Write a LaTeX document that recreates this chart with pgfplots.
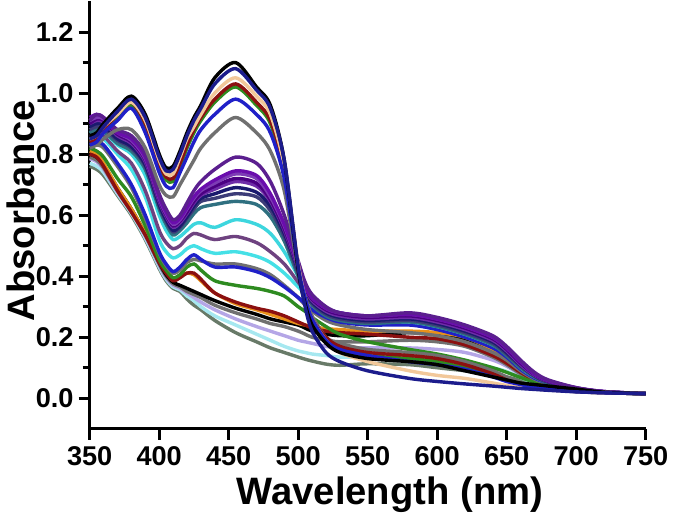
\documentclass[border=0pt]{standalone}
\usepackage{pgfplots}
\usepackage{pgfplotstable}
\pgfplotsset{compat=1.18}
\usepackage{fontspec}
\setmainfont{Liberation Sans}
\pgfplotstableread{
name c1 c2 c3 c4 c5 c6 c7 c8 c9 c10 c11 c12 c13 c14 c15 c16 c17 c18 c19 c20 c21 c22 c23 c24 c25 c26 c27 c28 c29 c30 c31 c32 c33 c34 c35
lam 350 355 360 370 380 390 400 405 410 415 420 425 430 440 455 470 480 490 500 505 510 520 530 550 580 600 620 640 650 660 670 680 700 720 750
T1 0.86 0.87 0.90 0.95 0.99 0.93 0.80 0.755 0.76 0.81 0.87 0.92 0.96 1.05 1.10 1.02 0.96 0.78 0.42 0.31 0.24 0.18 0.15 0.13 0.12 0.11 0.09 0.07 0.06 0.05 0.045 0.04 0.03 0.02 0.015
T2 0.85 0.86 0.89 0.94 0.98 0.92 0.79 0.745 0.75 0.80 0.86 0.91 0.95 1.03 1.08 1.01 0.95 0.78 0.43 0.30 0.22 0.15 0.12 0.09 0.065 0.055 0.047 0.04 0.036 0.032 0.029 0.026 0.021 0.018 0.015
T3 0.85 0.86 0.89 0.93 0.97 0.91 0.78 0.735 0.735 0.79 0.85 0.89 0.93 1.00 1.05 0.99 0.93 0.76 0.44 0.33 0.26 0.19 0.15 0.12 0.09 0.075 0.065 0.05 0.042 0.036 0.031 0.027 0.022 0.018 0.015
T4 0.84 0.85 0.88 0.93 0.97 0.90 0.77 0.725 0.72 0.77 0.83 0.88 0.92 0.98 1.03 0.97 0.91 0.75 0.43 0.33 0.26 0.2 0.17 0.15 0.14 0.13 0.11 0.08 0.06 0.045 0.035 0.03 0.022 0.018 0.015
T5 0.84 0.85 0.88 0.92 0.96 0.89 0.76 0.715 0.71 0.76 0.82 0.87 0.91 0.97 1.02 0.96 0.90 0.74 0.43 0.33 0.26 0.19 0.16 0.14 0.13 0.12 0.10 0.075 0.06 0.045 0.035 0.03 0.022 0.018 0.015
T6 0.83 0.84 0.87 0.91 0.95 0.87 0.74 0.695 0.69 0.74 0.79 0.84 0.88 0.93 0.98 0.93 0.87 0.72 0.43 0.33 0.26 0.19 0.16 0.14 0.12 0.11 0.095 0.07 0.055 0.045 0.035 0.03 0.022 0.018 0.015
T7 0.82 0.83 0.85 0.88 0.88 0.82 0.70 0.665 0.66 0.70 0.74 0.78 0.82 0.87 0.92 0.87 0.81 0.68 0.42 0.33 0.27 0.2 0.18 0.16 0.15 0.14 0.12 0.09 0.07 0.05 0.04 0.033 0.025 0.02 0.015
M1 0.91 0.93 0.92 0.88 0.86 0.80 0.67 0.62 0.585 0.60 0.64 0.68 0.71 0.75 0.79 0.77 0.71 0.60 0.45 0.38 0.34 0.30 0.28 0.27 0.28 0.265 0.24 0.205 0.17 0.125 0.085 0.06 0.035 0.022 0.015
M2 0.92 0.93 0.92 0.87 0.85 0.79 0.66 0.61 0.575 0.59 0.625 0.66 0.685 0.715 0.745 0.73 0.67 0.57 0.44 0.37 0.33 0.295 0.28 0.27 0.275 0.26 0.235 0.2 0.165 0.12 0.08 0.058 0.034 0.022 0.015
M3 0.91 0.92 0.915 0.87 0.845 0.785 0.655 0.605 0.57 0.585 0.62 0.655 0.68 0.705 0.735 0.72 0.66 0.565 0.435 0.37 0.33 0.295 0.28 0.27 0.275 0.26 0.235 0.2 0.165 0.12 0.08 0.058 0.034 0.022 0.015
M4 0.90 0.915 0.91 0.865 0.84 0.78 0.65 0.60 0.565 0.58 0.61 0.645 0.67 0.695 0.72 0.705 0.65 0.555 0.43 0.365 0.325 0.29 0.275 0.265 0.27 0.255 0.23 0.195 0.16 0.115 0.078 0.056 0.033 0.021 0.015
M5 0.90 0.91 0.905 0.86 0.835 0.775 0.645 0.595 0.56 0.575 0.605 0.64 0.665 0.685 0.71 0.695 0.645 0.55 0.425 0.36 0.32 0.285 0.27 0.26 0.265 0.25 0.225 0.19 0.155 0.11 0.075 0.055 0.033 0.021 0.015
M6 0.89 0.90 0.895 0.85 0.825 0.765 0.635 0.585 0.55 0.565 0.595 0.63 0.655 0.67 0.69 0.675 0.63 0.54 0.42 0.355 0.315 0.28 0.265 0.255 0.26 0.245 0.22 0.185 0.15 0.108 0.074 0.054 0.033 0.021 0.015
M7 0.88 0.89 0.885 0.845 0.82 0.76 0.63 0.58 0.545 0.56 0.59 0.62 0.645 0.655 0.67 0.66 0.615 0.53 0.41 0.35 0.31 0.275 0.26 0.25 0.255 0.24 0.215 0.18 0.145 0.105 0.072 0.052 0.032 0.021 0.015
M8 0.87 0.88 0.875 0.835 0.81 0.75 0.62 0.57 0.535 0.55 0.575 0.605 0.625 0.635 0.645 0.635 0.595 0.515 0.40 0.345 0.305 0.27 0.255 0.245 0.25 0.235 0.21 0.175 0.14 0.1 0.07 0.05 0.031 0.02 0.015
C1 0.87 0.88 0.875 0.83 0.80 0.73 0.60 0.55 0.52 0.53 0.55 0.57 0.575 0.56 0.585 0.57 0.54 0.48 0.40 0.36 0.33 0.295 0.28 0.265 0.265 0.25 0.225 0.19 0.155 0.11 0.075 0.055 0.033 0.021 0.015
C2 0.86 0.865 0.86 0.81 0.77 0.68 0.55 0.51 0.49 0.50 0.525 0.54 0.535 0.52 0.53 0.51 0.48 0.44 0.38 0.35 0.32 0.285 0.27 0.255 0.255 0.24 0.215 0.18 0.15 0.105 0.072 0.053 0.032 0.021 0.015
C3 0.85 0.855 0.85 0.80 0.75 0.66 0.52 0.48 0.46 0.47 0.49 0.50 0.49 0.475 0.48 0.465 0.445 0.41 0.365 0.34 0.315 0.28 0.265 0.25 0.25 0.235 0.21 0.175 0.145 0.1 0.07 0.052 0.032 0.021 0.015
D1 0.84 0.84 0.83 0.77 0.70 0.60 0.48 0.44 0.415 0.43 0.455 0.47 0.455 0.43 0.43 0.415 0.395 0.365 0.33 0.31 0.29 0.265 0.25 0.24 0.24 0.225 0.2 0.165 0.135 0.095 0.066 0.05 0.031 0.02 0.015
D2 0.83 0.83 0.82 0.76 0.69 0.59 0.475 0.435 0.41 0.42 0.445 0.455 0.45 0.44 0.44 0.425 0.405 0.37 0.33 0.305 0.285 0.255 0.24 0.225 0.215 0.205 0.185 0.15 0.125 0.09 0.063 0.048 0.03 0.02 0.015
E 0.82 0.81 0.79 0.72 0.66 0.565 0.455 0.42 0.395 0.405 0.43 0.44 0.42 0.385 0.37 0.36 0.35 0.335 0.30 0.285 0.265 0.235 0.21 0.185 0.16 0.145 0.125 0.1 0.085 0.068 0.053 0.043 0.028 0.02 0.015
F 0.80 0.79 0.76 0.68 0.61 0.535 0.445 0.41 0.385 0.395 0.41 0.41 0.39 0.345 0.315 0.295 0.285 0.27 0.25 0.24 0.23 0.22 0.215 0.21 0.2 0.195 0.175 0.14 0.115 0.085 0.06 0.046 0.03 0.02 0.015
O 0.81 0.80 0.77 0.69 0.62 0.54 0.45 0.415 0.39 0.40 0.41 0.405 0.385 0.345 0.31 0.29 0.275 0.26 0.245 0.24 0.235 0.228 0.225 0.22 0.22 0.215 0.2 0.16 0.13 0.095 0.066 0.05 0.031 0.021 0.015
G1 0.80 0.79 0.765 0.69 0.62 0.54 0.445 0.405 0.38 0.37 0.36 0.35 0.34 0.32 0.295 0.275 0.26 0.25 0.24 0.23 0.22 0.21 0.205 0.205 0.215 0.21 0.19 0.15 0.125 0.09 0.063 0.048 0.03 0.02 0.015
G2 0.79 0.78 0.755 0.68 0.615 0.535 0.44 0.40 0.375 0.365 0.35 0.34 0.33 0.305 0.28 0.26 0.245 0.235 0.22 0.21 0.2 0.19 0.185 0.185 0.19 0.185 0.17 0.135 0.11 0.08 0.058 0.045 0.029 0.02 0.015
G3 0.785 0.775 0.75 0.675 0.61 0.53 0.435 0.395 0.37 0.36 0.345 0.33 0.315 0.29 0.26 0.235 0.22 0.205 0.19 0.185 0.18 0.17 0.165 0.165 0.165 0.16 0.15 0.125 0.105 0.078 0.056 0.044 0.029 0.02 0.015
G4 0.77 0.76 0.74 0.67 0.605 0.525 0.43 0.39 0.365 0.355 0.335 0.32 0.30 0.27 0.24 0.21 0.19 0.17 0.155 0.15 0.145 0.14 0.135 0.135 0.135 0.13 0.12 0.1 0.088 0.068 0.05 0.04 0.027 0.019 0.015
G5 0.76 0.75 0.73 0.665 0.60 0.52 0.425 0.385 0.36 0.35 0.325 0.305 0.29 0.255 0.215 0.185 0.165 0.15 0.135 0.128 0.122 0.112 0.108 0.113 0.11 0.10 0.09 0.077 0.07 0.058 0.046 0.038 0.026 0.019 0.015
}\raw
\pgfplotstabletranspose[colnames from=name]\spectra\raw
\definecolor{cNavy}{HTML}{1C1C8C}
\definecolor{cTan}{HTML}{F2C89A}
\definecolor{cDRed}{HTML}{8B1010}
\definecolor{cGreen}{HTML}{2E8B20}
\definecolor{cBlue}{HTML}{2020C8}
\definecolor{cGrey}{HTML}{707070}
\definecolor{cP1}{HTML}{5B1F8F}
\definecolor{cP2}{HTML}{6A0DAD}
\definecolor{cP3}{HTML}{7D3CB5}
\definecolor{cP4}{HTML}{4B0082}
\definecolor{cP5}{HTML}{6F2DA8}
\definecolor{cP6}{HTML}{1A1A6E}
\definecolor{cP7}{HTML}{3C3C78}
\definecolor{cTeal}{HTML}{2F7080}
\definecolor{cCyan}{HTML}{3DD6DE}
\definecolor{cPB}{HTML}{6E4280}
\definecolor{cCyan2}{HTML}{45E0E6}
\definecolor{cOrange}{HTML}{E8901A}
\definecolor{cLav}{HTML}{B4A6E6}
\definecolor{cLCyan}{HTML}{A6E8F0}
\definecolor{cGG}{HTML}{687A68}
\begin{document}
\begin{tikzpicture}
\begin{axis}[
  scale only axis,
  width=276.5pt, height=212.5pt,
  xmin=350, xmax=750, ymin=-0.1, ymax=1.3,
  axis x line*=bottom, axis y line*=left,
  axis line style={-, line width=1.5pt, black},
  xtick={350,400,450,500,550,600,650,700,750},
  ytick={0,0.2,0.4,0.6,0.8,1.0,1.2},
  minor ytick={0.1,0.3,0.5,0.7,0.9,1.1},
  tick align=outside,
  major tick length=5.5pt, minor tick length=3.5pt,
  every tick/.style={black, line width=1.5pt},
  xtick pos=bottom, ytick pos=left,
  ticklabel style={font=\bfseries\fontsize{13.5}{15}\selectfont},
  /pgf/number format/assume math mode=true,
  yticklabel style={xshift=1pt, /pgf/number format/.cd, fixed, fixed zerofill, precision=1},
  xticklabel style={/pgf/number format/.cd, fixed, precision=0, 1000 sep={}},
  xlabel={Wavelength (nm)},
  ylabel={Absorbance},
  label style={font=\bfseries\fontsize{19}{21}\selectfont},
  xlabel style={at={(rel axis cs:0.54,0)}, anchor=base, yshift=-37.5pt},
  ylabel style={at={(rel axis cs:0,0.51)}, anchor=base, yshift=27.5pt},
  every axis plot/.append style={smooth, tension=0.5, line width=1.7pt, no markers},
  clip=false,
]
\addplot[cGG] table[x=lam,y=G5]{\spectra};
\addplot[cLCyan] table[x=lam,y=G4]{\spectra};
\addplot[cLav] table[x=lam,y=G3]{\spectra};
\addplot[cGrey] table[x=lam,y=G2]{\spectra};
\addplot[black] table[x=lam,y=G1]{\spectra};
\addplot[cOrange] table[x=lam,y=O]{\spectra};
\addplot[cDRed] table[x=lam,y=F]{\spectra};
\addplot[cGreen] table[x=lam,y=E]{\spectra};
\addplot[cGrey] table[x=lam,y=D2]{\spectra};
\addplot[cBlue] table[x=lam,y=D1]{\spectra};
\addplot[cCyan2] table[x=lam,y=C3]{\spectra};
\addplot[cPB] table[x=lam,y=C2]{\spectra};
\addplot[cCyan] table[x=lam,y=C1]{\spectra};
\addplot[cTeal] table[x=lam,y=M8]{\spectra};
\addplot[cP7] table[x=lam,y=M7]{\spectra};
\addplot[cP6] table[x=lam,y=M6]{\spectra};
\addplot[cP5] table[x=lam,y=M5]{\spectra};
\addplot[cP4] table[x=lam,y=M4]{\spectra};
\addplot[cP3] table[x=lam,y=M3]{\spectra};
\addplot[cP2] table[x=lam,y=M2]{\spectra};
\addplot[cP1] table[x=lam,y=M1]{\spectra};
\addplot[cGrey] table[x=lam,y=T7]{\spectra};
\addplot[cGreen] table[x=lam,y=T5]{\spectra};
\addplot[cDRed] table[x=lam,y=T4]{\spectra};
\addplot[cTan] table[x=lam,y=T3]{\spectra};
\addplot[cBlue] table[x=lam,y=T6]{\spectra};
\addplot[black] table[x=lam,y=T1]{\spectra};
\addplot[cNavy] table[x=lam,y=T2]{\spectra};
\end{axis}
\end{tikzpicture}
\end{document}
